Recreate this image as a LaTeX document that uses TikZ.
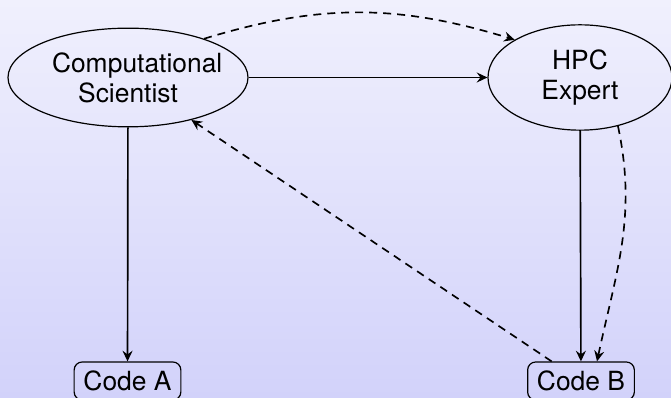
\documentclass[tikz,border=0pt]{standalone}
\usepackage{fontspec}
\setmainfont{TeX Gyre Heros}
\usetikzlibrary{shapes.geometric,arrows.meta}

\definecolor{bgtop}{RGB}{240,240,253}
\definecolor{bgbottom}{RGB}{210,210,250}

\tikzset{
  role/.style={ellipse, draw=black, line width=0.9pt, align=center, inner sep=0pt,
    font=\fontsize{19.8}{22.5}\selectfont},
  codebox/.style={draw=black, line width=0.9pt, rounded corners=6pt, inner xsep=7pt,
    minimum height=28.5pt, font=\fontsize{19.8}{22.5}\selectfont},
  link/.style={line width=1.25pt, -{Stealth[length=8pt,width=7.5pt,inset=2.8pt]}},
  hint/.style={link, dash pattern=on 6pt off 4.5pt}
}

\begin{document}
\begin{tikzpicture}[x=0.75pt,y=-0.75pt]
  % background
  \useasboundingbox (0,0) rectangle (671,398);
  \shade[top color=bgtop, bottom color=bgbottom] (0,0) rectangle (671,398);

  % actors
  \node[role, text width=114pt, minimum width=180pt, minimum height=74pt] (comp) at (128,77.5) {Computational\\Scientist};
  \node[role, minimum width=138pt, minimum height=79pt] (hpc) at (580,77.5) {HPC\\Expert};

  % artefacts
  \node[codebox] (codeA) at (127.5,381) {Code A};
  \node[codebox] (codeB) at (581,381) {Code B};

  % solid flows
  \draw[link] (comp) -- (codeA);
  \draw[link] (comp) -- (hpc);
  \draw[link] (hpc) -- (codeB);

  % dashed feedback
  \draw[hint] (comp.27) to[out=17, in=163] (hpc.150);
  \draw[hint] (hpc.-52) to[out=-78, in=78] ([xshift=12pt]codeB.north);
  \draw[hint] ([xshift=-22pt]codeB.north) -- (comp);
\end{tikzpicture}
\end{document}
